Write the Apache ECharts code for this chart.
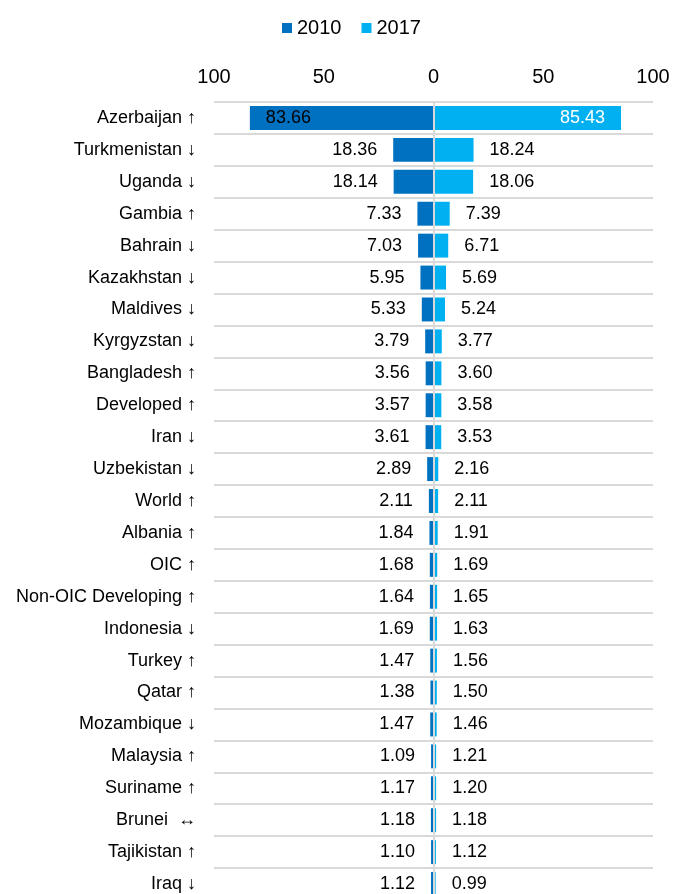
<!DOCTYPE html>
<html>
<head>
<meta charset="utf-8">
<script src="https://cdn.jsdelivr.net/npm/echarts@6/dist/echarts.min.js"></script>
<style>html,body{margin:0;padding:0;background:#fff;}#c{width:673px;height:894px;}</style>
</head>
<body>
<div id="c"></div>
<script>
const categories = ["Azerbaijan ↑","Turkmenistan ↓","Uganda ↓","Gambia ↑","Bahrain ↓","Kazakhstan ↓","Maldives ↓","Kyrgyzstan ↓","Bangladesh ↑","Developed ↑","Iran ↓","Uzbekistan ↓","World ↑","Albania ↑","OIC ↑","Non-OIC Developing ↑","Indonesia ↓","Turkey ↑","Qatar ↑","Mozambique ↓","Malaysia ↑","Suriname ↑","Brunei  ↔","Tajikistan ↑","Iraq ↓"];
const values2010 = [83.66,18.36,18.14,7.33,7.03,5.95,5.33,3.79,3.56,3.57,3.61,2.89,2.11,1.84,1.68,1.64,1.69,1.47,1.38,1.47,1.09,1.17,1.18,1.10,1.12];
const values2017 = [85.43,18.24,18.06,7.39,6.71,5.69,5.24,3.77,3.60,3.58,3.53,2.16,2.11,1.91,1.69,1.65,1.63,1.56,1.50,1.46,1.21,1.20,1.18,1.12,0.99];
const xTicks = [-100,-50,0,50,100];

const FONT = 'Liberation Sans, Arial, sans-serif';
const chart = echarts.init(document.getElementById('c'));

const d2010 = values2010.map((v,i) => i === 0
  ? {value:-v, label:{position:'insideLeft', distance:16, color:'#000'}}
  : {value:-v});
const d2017 = values2017.map((v,i) => i === 0
  ? {value:v, label:{position:'insideRight', distance:16, color:'#fff'}}
  : {value:v});

chart.setOption({
  animation:false,
  legend:{
    data:['2010','2017'],
    top:13, left:277,
    icon:'rect', itemWidth:10, itemHeight:10, itemGap:20,
    textStyle:{fontFamily:FONT, fontSize:20, color:'#000'}
  },
  grid:{left:214, right:20, top:102, height:798, containLabel:false, outerBoundsMode:'none'},
  xAxis:{
    type:'value', position:'top', min:-100, max:100, interval:50,
    axisLine:{show:false}, axisTick:{show:false}, splitLine:{show:false},
    axisLabel:{fontFamily:FONT, fontSize:20, color:'#000', margin:15,
      formatter:v => xTicks.includes(v) ? String(Math.abs(v)) : ''}
  },
  yAxis:{
    type:'category', data:categories, inverse:true, z:10,
    axisLine:{show:true, onZero:true, lineStyle:{color:'#d9d9d9', width:2}},
    axisTick:{show:false},
    splitLine:{show:true, lineStyle:{color:'#d9d9d9', width:2}},
    axisLabel:{fontFamily:FONT, fontSize:18, color:'#000', margin:18}
  },
  series:[
    {name:'2010', type:'bar', stack:'t', data:d2010, barCategoryGap:'25%',
     itemStyle:{color:'#0070C0'},
     label:{show:true, position:'left', distance:16, fontFamily:FONT, fontSize:18, color:'#000',
       formatter:p => Math.abs(p.value).toFixed(2)}},
    {name:'2017', type:'bar', stack:'t', data:d2017, barCategoryGap:'25%',
     itemStyle:{color:'#00B0F0'},
     label:{show:true, position:'right', distance:16, fontFamily:FONT, fontSize:18, color:'#000',
       formatter:p => Math.abs(p.value).toFixed(2)}}
  ]
});
</script>
</body>
</html>
